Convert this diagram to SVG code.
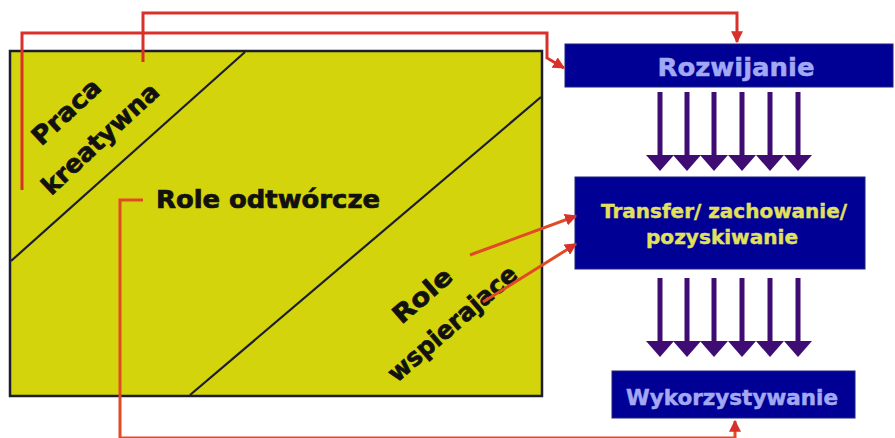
<svg xmlns="http://www.w3.org/2000/svg" width="895" height="438" viewBox="0 0 895 438">
  <style>
    .panel { fill: #d4d40c; stroke: #1c1c30; stroke-width: 2.5; }
    .divider { stroke: #1c1c28; stroke-width: 2.2; fill: none; }
    .box { fill: #000094; stroke: #20207a; stroke-width: 1; }
    .lbl { font-family: "DejaVu Sans", "Liberation Sans", sans-serif; font-weight: bold; }
    .dark { fill: #111111; stroke: #111111; stroke-width: 0.7; }
    .lav { fill: #a2a8f2; stroke: #a2a8f2; stroke-width: 0.5; }
    .yel { fill: #e2e25a; stroke: #e2e25a; stroke-width: 0.4; }
    .wire { fill: none; stroke: #d8302a; stroke-width: 3; stroke-linejoin: miter; }
    .wire2 { fill: none; stroke: #e04a24; stroke-width: 3; }
    .flow { fill: #3e0c72; }
  </style>
  <defs>
    <marker id="redHead" viewBox="0 0 10 10" refX="9" refY="5" markerWidth="4" markerHeight="4" orient="auto" markerUnits="strokeWidth">
      <path d="M0,0 L10,5 L0,10 z" fill="#d8302a"/>
    </marker>
    <!-- downward flow arrow, origin at stem top centre -->
    <symbol id="flowArrow" overflow="visible">
      <rect x="-2.5" y="0" width="5" height="64" class="flow"/>
      <path d="M-14,63 L14,63 L0,79 z" class="flow"/>
    </symbol>
  </defs>

  <!-- yellow panel with the three role zones -->
  <g id="panel">
    <rect x="10" y="51" width="532" height="345" class="panel"/>
    <line x1="245" y1="52" x2="11" y2="261" class="divider"/>
    <line x1="541" y1="97" x2="190" y2="395" class="divider"/>
  </g>

  <g id="praca-kreatywna">
    <text class="lbl dark" font-size="25" transform="translate(72,118) rotate(-43)" text-anchor="middle" textLength="84" lengthAdjust="spacingAndGlyphs">Praca</text>
    <text class="lbl dark" font-size="25" transform="translate(106,145) rotate(-43)" text-anchor="middle" textLength="150" lengthAdjust="spacingAndGlyphs">kreatywna</text>
  </g>

  <g id="role-odtworcze">
    <text class="lbl dark" x="156" y="208" font-size="24" textLength="224" lengthAdjust="spacingAndGlyphs">Role odtwórcze</text>
  </g>

  <g id="role-wspierajace">
    <text class="lbl dark" font-size="25" transform="translate(428,302) rotate(-41)" text-anchor="middle" textLength="70" lengthAdjust="spacingAndGlyphs">Role</text>
    <text class="lbl dark" font-size="25" transform="translate(458,330) rotate(-41)" text-anchor="middle" textLength="162" lengthAdjust="spacingAndGlyphs">wspierajace</text>
  </g>

  <g id="rozwijanie">
    <rect x="565" y="44" width="328" height="43" class="box"/>
    <text class="lbl lav" x="736" y="76" font-size="25" text-anchor="middle" textLength="157" lengthAdjust="spacingAndGlyphs">Rozwijanie</text>
  </g>

  <g id="transfer">
    <rect x="575" y="177" width="290" height="92" class="box"/>
    <text class="lbl yel" x="724" y="218" font-size="19" text-anchor="middle" textLength="246" lengthAdjust="spacingAndGlyphs">Transfer/ zachowanie/</text>
    <text class="lbl yel" x="722" y="244" font-size="19" text-anchor="middle" textLength="152" lengthAdjust="spacingAndGlyphs">pozyskiwanie</text>
  </g>

  <g id="wykorzystywanie">
    <rect x="612" y="371" width="243" height="47" class="box"/>
    <text class="lbl lav" x="732" y="405" font-size="21" text-anchor="middle" textLength="212" lengthAdjust="spacingAndGlyphs">Wykorzystywanie</text>
  </g>

  <g id="connectors">
    <!-- creative work to development -->
    <path class="wire" d="M143,62 V13 H737 V42" marker-end="url(#redHead)"/>
    <path class="wire" d="M22,190 V33 H547 V58 L564,68" marker-end="url(#redHead)"/>
    <!-- reproductive roles to utilisation -->
    <path class="wire2" d="M143,200 H120 V438 H735 V421" marker-end="url(#redHead)"/>
    <!-- supporting roles to transfer -->
    <path class="wire2" d="M470,255 L576,216" marker-end="url(#redHead)"/>
    <path class="wire2" d="M483,302 L576,244" marker-end="url(#redHead)"/>

    <!-- flows: development to transfer -->
    <g id="flow-upper">
      <use href="#flowArrow" x="660" y="92"/>
      <use href="#flowArrow" x="687" y="92"/>
      <use href="#flowArrow" x="714" y="92"/>
      <use href="#flowArrow" x="742" y="92"/>
      <use href="#flowArrow" x="770" y="92"/>
      <use href="#flowArrow" x="798" y="92"/>
    </g>
    <!-- flows: transfer to utilisation -->
    <g id="flow-lower">
      <use href="#flowArrow" x="660" y="278"/>
      <use href="#flowArrow" x="687" y="278"/>
      <use href="#flowArrow" x="714" y="278"/>
      <use href="#flowArrow" x="742" y="278"/>
      <use href="#flowArrow" x="770" y="278"/>
      <use href="#flowArrow" x="798" y="278"/>
    </g>
  </g>
</svg>
